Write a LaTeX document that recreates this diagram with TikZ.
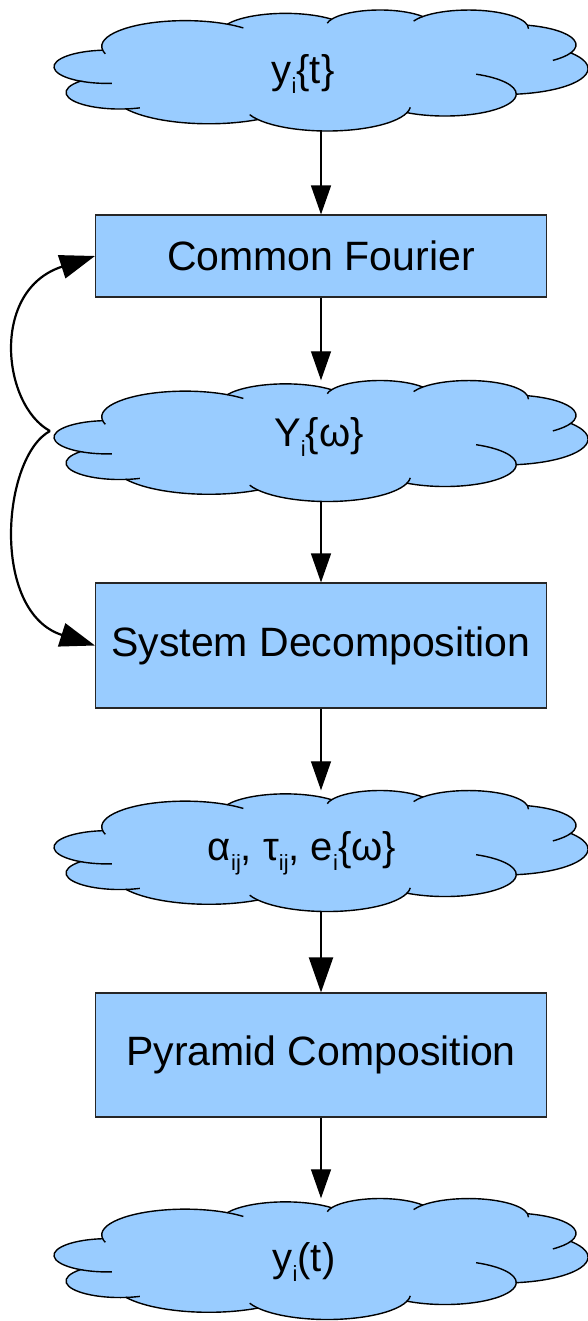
\documentclass[tikz,border=0pt]{standalone}
\usepackage{fontspec}
\setmainfont{Liberation Sans}
\usetikzlibrary{arrows.meta}
\definecolor{fillblue}{RGB}{153,204,255}
\newcommand\sbsc[1]{\raisebox{-10pt}{\fontsize{22}{22}\selectfont #1}}
\tikzset{
 procbox/.style={draw=black!85, line width=1.1pt, fill=fillblue, minimum width=451pt, inner sep=0pt, font=\fontsize{41}{49}\selectfont},
 cloudbox/.style={minimum width=534pt, minimum height=121pt, inner sep=0pt},
 cloudtext/.style={inner sep=0pt, font=\fontsize{40}{48}\selectfont},
 cloudfill/.style={fill=fillblue, draw=black, line width=1.4pt},
 cloudline/.style={draw=black, line width=1.4pt},
 thinarrow/.style={line width=1.3pt, -{Triangle[length=29pt,width=20pt]}},
 thickarrow/.style={line width=2pt, -{Triangle[length=35pt,width=24pt]}},
 curvearrow/.style={line width=2.2pt, -{Triangle[length=35pt,width=24pt]}},
 cloudpic/.pic={
  \begin{scope}[xscale=12.347,yscale=-2.8]
  \begin{scope}[shift={(-21.595,-21.75)}]
   \path[cloudfill] (3.9,14.37)
     arc[start angle=-187.746,end angle=-59.63,x radius=6.753,y radius=9.19]
     arc[start angle=-152.04,end angle=-45.416,x radius=5.333,y radius=7.267]
     arc[start angle=-153.49,end angle=-37.32,x radius=4.365,y radius=5.945]
     arc[start angle=-139.71,end angle=-10.21,x radius=4.857,y radius=6.595]
     arc[start angle=-74.77,end angle=23.21,x radius=5.333,y radius=7.273]
     arc[start angle=-37.52,end angle=81.86,x radius=6.775,y radius=9.22]
     arc[start angle=0.4596,end angle=121.97,x radius=5.785,y radius=7.867]
     arc[start angle=16.84,end angle=146.21,x radius=6.752,y radius=9.215]
     arc[start angle=58.99,end angle=150.20,x radius=7.72,y radius=10.543]
     arc[start angle=83.31,end angle=223.10,x radius=4.36,y radius=5.918]
     arc[start angle=120.36,end angle=264.11,x radius=4.345,y radius=5.945]
     -- cycle;
   \draw[cloudline] (4.3156,20.4249) ++(85.54:4.345 and 5.945) arc[start angle=85.54,end angle=120.36,x radius=4.345,y radius=5.945];
   \draw[cloudline] (5.3027,29.598) ++(68.24:4.36 and 5.918) arc[start angle=68.24,end angle=83.31,x radius=4.36,y radius=5.918];
   \draw[cloudline] (22.0981,34.1464) ++(146.21:6.752 and 9.215) arc[start angle=146.21,end angle=158.47,x radius=6.752,y radius=9.215];
   \draw[cloudline] (22.0981,34.1464) ++(4.737:6.752 and 9.215) arc[start angle=4.737,end angle=16.84,x radius=6.752,y radius=9.215];
   \draw[cloudline] (31.6235,30.1421) ++(-64.03:5.785 and 7.867) arc[start angle=-64.03,end angle=0.4596,x radius=5.785,y radius=7.867];
   \draw[cloudline] (36.9216,12.5972) ++(23.21:5.333 and 7.273) arc[start angle=23.21,end angle=49.64,x radius=5.333,y radius=7.273];
   \draw[cloudline] (33.5423,6.7486) ++(-10.21:4.857 and 6.595) arc[start angle=-10.21,end angle=0.82,x radius=4.857,y radius=6.595];
   \draw[cloudline] (33.5423,6.7486) ++(-156.29:4.857 and 6.595) arc[start angle=-156.29,end angle=-139.71,x radius=4.857,y radius=6.595];
   \draw[cloudline] (26.3659,6.0875) ++(-167.73:4.365 and 5.945) arc[start angle=-167.73,end angle=-153.49,x radius=4.365,y radius=5.945];
   \draw[cloudline] (10.5914,13.1315) ++(-59.63:6.753 and 9.19) arc[start angle=-59.63,end angle=-45.72,x radius=6.753,y radius=9.19];
   \draw[cloudline] (10.5914,13.1315) ++(163.19:6.753 and 9.19) arc[start angle=163.19,end angle=172.25,x radius=6.753,y radius=9.19];
  \end{scope}
  \end{scope}
 }
}
\begin{document}
\begin{tikzpicture}[x=1pt,y=1pt]
\useasboundingbox (0,0) rectangle (588,-1321);
\fill[white] (0,0) rectangle (588,-1321);
% clouds
\node[cloudbox] (c1) at (321,-70.5) {};
\pic at (c1.center) {cloudpic};
\node[cloudtext] (t1) at (303,-74) {y\sbsc{i}\{t\}};
\node[cloudbox] (c2) at (321,-441) {};
\pic at (c2.center) {cloudpic};
\node[cloudtext] (t2) at (319,-437) {Y\sbsc{i}\{ω\}};
\node[cloudbox] (c3) at (321,-851) {};
\pic at (c3.center) {cloudpic};
\node[cloudtext] (t3) at (302,-853) {α\sbsc{ij}, τ\sbsc{ij}, e\sbsc{i}\{ω\}};
\node[cloudbox] (c4) at (321,-1259) {};
\pic at (c4.center) {cloudpic};
\node[cloudtext] (t4) at (304,-1262) {y\sbsc{i}(t)};
% boxes
\node[procbox, minimum height=82pt] (b1) at (321,-256) {Common Fourier};
\node[procbox, minimum height=125pt] (b2) at (321,-645.5) {System Decomposition};
\node[procbox, minimum height=124pt] (b3) at (321,-1055) {Pyramid Composition};
% connectors
\draw[thinarrow] (c1.south) -- (b1.north);
\draw[thinarrow] (b1.south) -- (c2.north);
\draw[thinarrow] (c2.south) -- (b2.north);
\draw[thinarrow] (b2.south) -- (c3.north);
\draw[thickarrow] (c3.south) -- (b3.north);
\draw[thinarrow] (b3.south) -- (c4.north);
\coordinate (split) at (50,-431);
\draw[curvearrow] (split) .. controls (2,-405) and (-10,-290) .. (b1.west);
\draw[curvearrow] (split) .. controls (2,-457) and (-10,-612) .. (b2.west);
\end{tikzpicture}
\end{document}
